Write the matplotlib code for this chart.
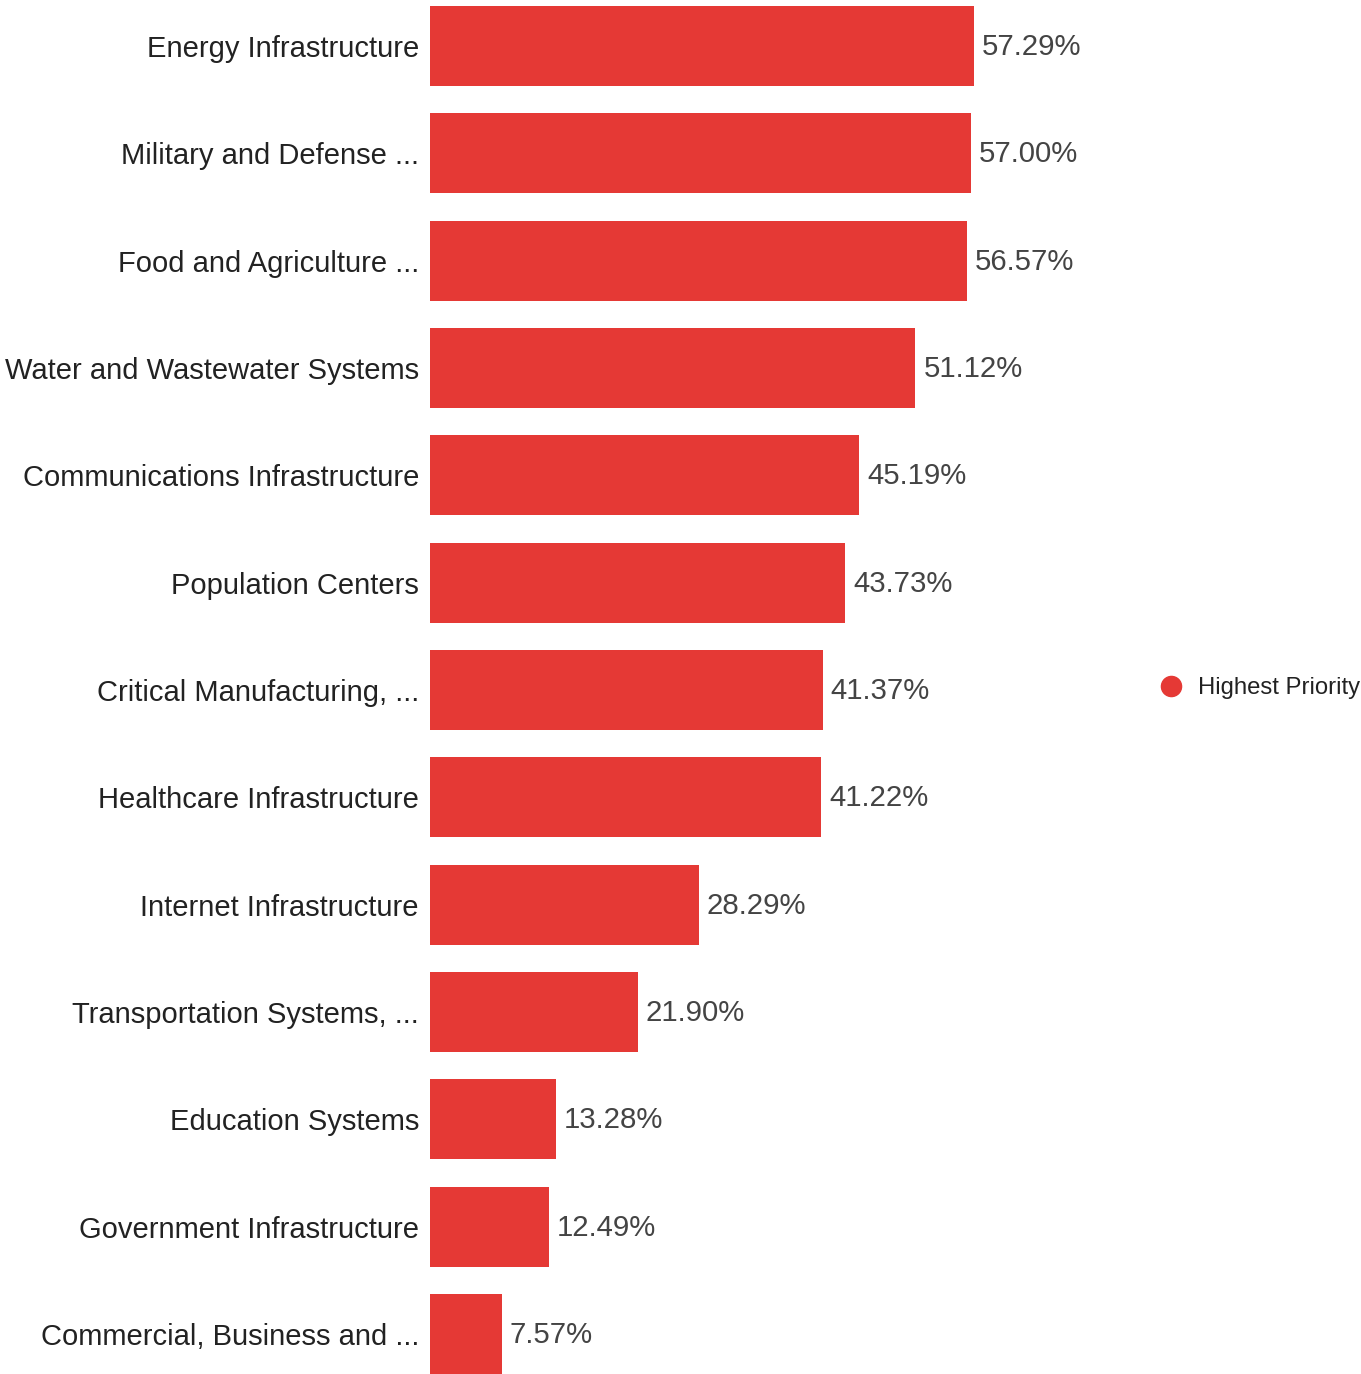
import matplotlib
matplotlib.use("Agg")
import matplotlib.pyplot as plt
from matplotlib.lines import Line2D

plt.rcParams['font.family'] = ['Liberation Sans', 'DejaVu Sans']

categories = [
    "Energy Infrastructure",
    "Military and Defense ...",
    "Food and Agriculture ...",
    "Water and Wastewater Systems",
    "Communications Infrastructure",
    "Population Centers",
    "Critical Manufacturing, ...",
    "Healthcare Infrastructure",
    "Internet Infrastructure",
    "Transportation Systems, ...",
    "Education Systems",
    "Government Infrastructure",
    "Commercial, Business and ...",
]
values = [57.29, 57.00, 56.57, 51.12, 45.19, 43.73, 41.37, 41.22, 28.29, 21.90, 13.28, 12.49, 7.57]
series_name = "Highest Priority"

W, H = 1361, 1374
fig = plt.figure(figsize=(W / 100, H / 100), dpi=100)

# plot area: zero line at x=430px, 9.496 px per percent
left_px, right_px = 430, 1150
ax = fig.add_axes([left_px / W, 0, (right_px - left_px) / W, 1])
ax.set_xlim(0, (right_px - left_px) / 9.496)
ax.set_ylim(12.373, -0.4286)

bar_color = "#E53935"
ypos = list(range(len(categories)))
ax.barh(ypos, values, height=0.745, color=bar_color)

for y, v in zip(ypos, values):
    ax.annotate(f"{v:.2f}%", (v, y), xytext=(8, -1), textcoords="offset pixels",
                va="center", ha="left", fontsize=21.2, color="#444444")

ax.set_yticks(ypos)
ax.set_yticklabels(categories, fontsize=21.0, color="#222222")
ax.tick_params(axis="y", length=0, pad=8)
ax.set_xticks([])
for s in ax.spines.values():
    s.set_visible(False)

handle = Line2D([], [], marker="o", linestyle="none", markersize=14.5,
                markerfacecolor=bar_color, markeredgecolor=bar_color)
fig.legend([handle], [series_name], loc="center left",
           bbox_to_anchor=(1138 / W, 1 - 688 / H), frameon=False,
           fontsize=17.2, handlelength=1.0, handletextpad=0.6,
           labelcolor="#222222")

fig.savefig("out.png", dpi=100)
